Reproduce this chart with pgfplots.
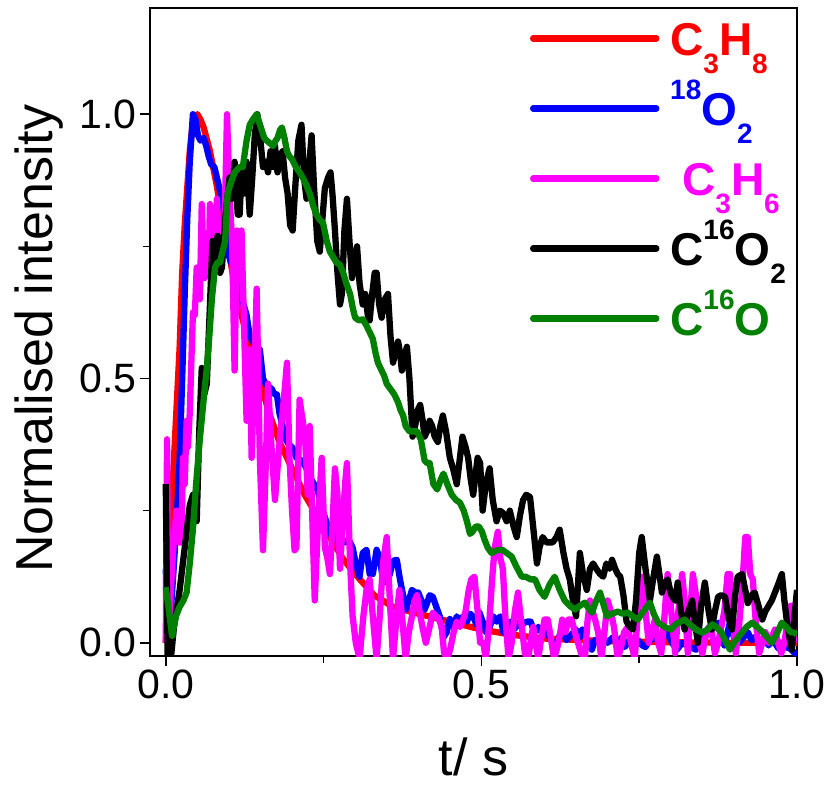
\documentclass[border=0pt]{standalone}
\usepackage{pgfplots}
\pgfplotsset{compat=1.18}
\usepackage{fontspec}
\setmainfont{Liberation Sans}
\definecolor{cgreen}{RGB}{0,128,0}
\definecolor{cmag}{RGB}{255,0,255}
\definecolor{cred}{RGB}{255,0,0}
\definecolor{cblue}{RGB}{0,0,255}
\newcommand{\lsub}[1]{\raisebox{-18bp}{\fontsize{28bp}{28bp}\selectfont #1}}
\newcommand{\lsup}[1]{\raisebox{26bp}{\fontsize{28bp}{28bp}\selectfont #1}}
\pgfplotsset{thickplot/.style={line width=6.3bp, line join=round}}
\begin{document}
\begin{tikzpicture}
\useasboundingbox (-150bp,-130bp) rectangle (680bp,656bp);
\begin{axis}[
  scale only axis, width=647bp, height=647.5bp,
  xmin=-0.025, xmax=1.0, ymin=-0.025, ymax=1.2,
  xtick={0,0.5,1}, ytick={0,0.5,1}, minor tick num=1,
  xtick pos=left, ytick pos=left, tick align=outside,
  major tick length=10bp, minor tick length=7bp,
  tick style={line width=1.6bp, black},
  axis line style={line width=2bp},
  /pgf/number format/.cd, fixed, fixed zerofill, precision=1, assume math mode=true,
  /pgfplots/.cd,
  tick label style={font=\fontsize{41bp}{41bp}\selectfont},
  xlabel={t/ s}, ylabel={Normalised intensity},
  label style={font=\fontsize{52bp}{52bp}\selectfont, inner sep=0pt},
  xlabel style={at={(axis description cs:0.5,-0.1838)}, anchor=base},
  ylabel style={at={(axis description cs:-0.133,0.49)}, anchor=south},
  legend style={draw=none, fill=none, inner sep=0pt, outer sep=0pt, row sep=0pt, column sep=0pt,
     at={(axis description cs:0.5873,1)}, anchor=north west,
     font=\bfseries\fontsize{46bp}{46bp}\selectfont,
     cells={anchor=base west},
     nodes={inner sep=0pt, outer sep=0pt, text height=47bp, text depth=23bp}},
  legend image code/.code={\path[draw=none,fill=none] (0bp,0bp) -- (137bp,0bp); \draw[#1, line width=6.5bp, line cap=round] (0bp,17bp) -- (123bp,17bp);},
]
\addplot[cred, thickplot] coordinates {
(0.000,0.00)(0.005,0.10)(0.011,0.30)(0.016,0.42)(0.022,0.56)(0.026,0.70)(0.030,0.79)(0.034,0.86)(0.038,0.93)(0.042,0.975)(0.046,0.995)(0.050,1.00)(0.055,0.99)(0.060,0.975)(0.070,0.93)(0.080,0.87)(0.090,0.80)(0.100,0.74)(0.110,0.67)(0.120,0.62)(0.135,0.55)(0.150,0.49)(0.165,0.43)(0.180,0.38)(0.200,0.33)(0.220,0.28)(0.240,0.24)(0.260,0.20)(0.280,0.16)(0.300,0.13)(0.330,0.09)(0.360,0.068)(0.400,0.055)(0.450,0.040)(0.500,0.025)(0.550,0.015)(0.600,0.008)(0.700,0.003)(0.800,0.001)(0.900,0.000)(1.000,0.000)
};
\addlegendentry{\textcolor{cred}{C\lsub{3}H\lsub{8}}}
\addplot[cblue, thickplot] coordinates {
(0.000,0.14)(0.003,0.00)(0.008,0.06)(0.013,0.15)(0.018,0.25)(0.022,0.35)(0.026,0.50)(0.030,0.66)(0.034,0.80)(0.038,0.91)(0.043,1.00)(0.047,0.99)(0.051,0.96)(0.055,0.95)(0.060,0.955)(0.064,0.94)(0.068,0.92)(0.072,0.905)(0.077,0.90)(0.081,0.88)(0.085,0.86)(0.089,0.84)(0.094,0.80)(0.098,0.74)(0.103,0.72)(0.107,0.71)(0.112,0.69)(0.117,0.67)(0.122,0.645)(0.128,0.62)(0.133,0.58)(0.138,0.57)(0.144,0.56)(0.149,0.555)(0.154,0.50)(0.158,0.49)(0.163,0.485)(0.168,0.48)(0.172,0.47)(0.176,0.47)(0.180,0.435)(0.185,0.41)(0.190,0.385)(0.195,0.375)(0.200,0.37)(0.207,0.35)(0.215,0.345)(0.223,0.33)(0.230,0.31)(0.235,0.30)(0.240,0.29)(0.245,0.27)(0.250,0.245)(0.255,0.227)(0.260,0.21)(0.265,0.195)(0.270,0.21)(0.275,0.20)(0.280,0.195)(0.285,0.19)(0.290,0.195)(0.296,0.18)(0.301,0.15)(0.307,0.125)(0.312,0.17)(0.318,0.176)(0.323,0.13)(0.328,0.13)(0.334,0.176)(0.339,0.16)(0.344,0.12)(0.350,0.114)(0.355,0.13)(0.360,0.155)(0.366,0.157)(0.371,0.12)(0.376,0.09)(0.380,0.063)(0.385,0.08)(0.390,0.10)(0.395,0.095)(0.400,0.095)(0.405,0.08)(0.410,0.063)(0.414,0.075)(0.418,0.09)(0.423,0.087)(0.428,0.07)(0.434,0.05)(0.440,0.01)(0.445,0.02)(0.450,0.045)(0.456,0.03)(0.461,0.05)(0.466,0.04)(0.471,0.05)(0.477,0.04)(0.482,0.055)(0.487,0.05)(0.492,0.035)(0.497,0.057)(0.502,0.04)(0.508,0.019)(0.513,0.03)(0.519,0.05)(0.524,0.04)(0.530,0.05)(0.535,0.019)(0.541,0.03)(0.546,0.04)(0.552,0.025)(0.557,0.038)(0.562,0.03)(0.568,0.038)(0.573,0.04)(0.578,0.04)(0.584,0.02)(0.590,0.03)(0.596,0.019)(0.602,0.025)(0.608,0.01)(0.616,-0.008)(0.622,0.01)(0.628,0.02)(0.635,0.005)(0.642,0.015)(0.650,0.025)(0.655,0.01)(0.660,0.025)(0.665,0.01)(0.670,0.00)(0.675,-0.013)(0.680,0.005)(0.685,0.005)(0.692,0.01)(0.700,0.0)(0.708,0.01)(0.716,0.0)(0.722,0.01)(0.727,-0.008)(0.735,0.005)(0.742,0.0)(0.748,0.005)(0.755,-0.005)(0.760,-0.008)(0.764,0.0)(0.772,0.01)(0.780,0.005)(0.788,0.01)(0.795,0.019)(0.802,0.0)(0.810,-0.013)(0.818,0.0)(0.826,-0.005)(0.834,-0.01)(0.840,-0.013)(0.848,0.01)(0.856,0.02)(0.864,0.025)(0.870,0.03)(0.875,0.038)(0.880,0.01)(0.885,-0.005)(0.890,0.02)(0.894,0.04)(0.900,0.01)(0.908,0.0)(0.915,0.01)(0.922,0.02)(0.928,0.005)(0.933,0.011)(0.940,0.0)(0.948,0.01)(0.955,-0.005)(0.960,0.005)(0.965,0.0)(0.970,-0.01)(0.975,-0.013)(0.980,-0.008)(0.988,-0.01)(0.997,-0.02)(1.000,-0.02)
};
\addlegendentry{\textcolor{cblue}{\lsup{18}O\lsub{2}}}
\addplot[cmag, thickplot] coordinates {
(0.000,0.00)(0.002,0.385)(0.004,0.00)(0.008,0.10)(0.012,0.18)(0.017,0.25)(0.021,0.19)(0.025,0.19)(0.027,0.35)(0.030,0.30)(0.033,0.42)(0.035,0.37)(0.038,0.435)(0.041,0.55)(0.043,0.625)(0.046,0.62)(0.049,0.71)(0.052,0.65)(0.054,0.65)(0.057,0.83)(0.060,0.72)(0.062,0.69)(0.065,0.74)(0.068,0.72)(0.070,0.83)(0.074,0.79)(0.078,0.74)(0.081,0.84)(0.084,0.75)(0.086,0.70)(0.090,0.76)(0.093,0.78)(0.097,1.00)(0.101,0.85)(0.105,0.76)(0.109,0.515)(0.113,0.78)(0.117,0.75)(0.120,0.78)(0.124,0.60)(0.128,0.42)(0.133,0.555)(0.136,0.35)(0.140,0.50)(0.144,0.67)(0.149,0.35)(0.154,0.175)(0.158,0.32)(0.162,0.49)(0.167,0.38)(0.173,0.27)(0.177,0.33)(0.181,0.39)(0.187,0.46)(0.192,0.53)(0.196,0.35)(0.200,0.25)(0.204,0.175)(0.207,0.18)(0.212,0.46)(0.217,0.42)(0.221,0.38)(0.225,0.28)(0.228,0.41)(0.233,0.20)(0.236,0.08)(0.241,0.22)(0.247,0.35)(0.252,0.18)(0.256,0.16)(0.260,0.13)(0.264,0.22)(0.268,0.33)(0.272,0.28)(0.276,0.14)(0.280,0.22)(0.284,0.30)(0.287,0.34)(0.292,0.15)(0.296,0.05)(0.301,0.0)(0.307,-0.03)(0.313,0.05)(0.318,0.10)(0.323,0.12)(0.328,0.05)(0.334,-0.03)(0.339,0.05)(0.344,0.15)(0.350,0.20)(0.355,0.08)(0.360,-0.03)(0.365,0.04)(0.370,0.10)(0.375,0.04)(0.380,-0.03)(0.385,0.02)(0.390,0.05)(0.394,0.08)(0.398,0.09)(0.402,0.06)(0.407,0.027)(0.412,0.00)(0.418,0.03)(0.423,0.057)(0.428,0.05)(0.432,0.047)(0.437,0.03)(0.441,-0.02)(0.446,-0.03)(0.451,-0.01)(0.456,0.02)(0.461,0.04)(0.466,0.03)(0.470,0.04)(0.475,0.06)(0.480,0.10)(0.484,0.12)(0.489,0.125)(0.494,0.06)(0.498,0.0)(0.503,0.00)(0.507,-0.03)(0.512,0.03)(0.517,0.12)(0.521,0.18)(0.526,0.21)(0.530,0.16)(0.534,0.14)(0.538,0.05)(0.543,-0.03)(0.548,0.00)(0.553,0.06)(0.558,0.095)(0.563,0.04)(0.569,-0.02)(0.574,-0.03)(0.579,0.01)(0.582,0.03)(0.586,0.00)(0.590,-0.03)(0.595,0.01)(0.600,0.044)(0.605,0.044)(0.610,0.01)(0.615,-0.03)(0.620,-0.01)(0.625,0.02)(0.628,0.044)(0.633,0.02)(0.638,0.044)(0.643,0.044)(0.648,0.02)(0.653,0.00)(0.658,-0.02)(0.664,-0.03)(0.668,0.04)(0.672,0.08)(0.676,0.06)(0.680,0.044)(0.685,0.02)(0.690,-0.03)(0.695,0.02)(0.700,0.08)(0.705,0.06)(0.710,0.03)(0.716,-0.03)(0.721,-0.01)(0.726,0.02)(0.732,0.03)(0.737,0.00)(0.743,-0.03)(0.748,0.06)(0.754,0.125)(0.760,0.06)(0.765,0.00)(0.770,0.02)(0.775,0.044)(0.780,0.00)(0.785,-0.02)(0.790,0.05)(0.795,0.13)(0.800,0.07)(0.807,-0.02)(0.812,0.06)(0.818,0.13)(0.822,0.08)(0.827,-0.02)(0.831,0.06)(0.835,0.13)(0.840,0.09)(0.845,0.00)(0.850,-0.02)(0.855,0.01)(0.860,0.03)(0.865,0.02)(0.870,-0.02)(0.875,0.00)(0.880,0.03)(0.885,0.06)(0.890,0.13)(0.894,0.13)(0.898,0.05)(0.903,-0.02)(0.908,0.03)(0.913,0.10)(0.918,0.20)(0.922,0.20)(0.926,0.13)(0.930,0.12)(0.934,0.05)(0.940,-0.02)(0.945,0.00)(0.950,0.02)(0.955,0.00)(0.960,0.01)(0.965,0.025)(0.970,0.00)(0.975,-0.02)(0.980,0.00)(0.985,0.04)(0.990,0.07)(0.995,0.07)(1.000,0.00)
};
\addlegendentry{\hspace{12bp}\textcolor{cmag}{C\lsub{3}H\lsub{6}}}
\addplot[black, thickplot] coordinates {
(0.000,0.30)(0.003,-0.03)(0.008,-0.03)(0.013,0.03)(0.017,0.06)(0.022,0.10)(0.027,0.15)(0.032,0.20)(0.038,0.26)(0.043,0.28)(0.049,0.23)(0.053,0.40)(0.057,0.52)(0.061,0.47)(0.065,0.49)(0.070,0.64)(0.074,0.76)(0.078,0.72)(0.082,0.77)(0.086,0.70)(0.089,0.71)(0.094,0.80)(0.101,0.88)(0.105,0.84)(0.109,0.91)(0.114,0.81)(0.117,0.81)(0.120,0.89)(0.124,0.85)(0.128,0.91)(0.133,0.81)(0.137,0.88)(0.141,0.96)(0.145,1.00)(0.150,0.95)(0.154,0.90)(0.158,0.91)(0.162,0.89)(0.166,0.93)(0.170,0.90)(0.173,0.94)(0.177,0.89)(0.181,0.92)(0.185,0.93)(0.189,0.88)(0.193,0.85)(0.197,0.79)(0.201,0.78)(0.205,0.86)(0.210,0.95)(0.215,0.98)(0.219,0.88)(0.223,0.84)(0.227,0.90)(0.231,0.96)(0.235,0.86)(0.240,0.76)(0.244,0.74)(0.248,0.80)(0.252,0.86)(0.257,0.88)(0.261,0.89)(0.264,0.85)(0.268,0.78)(0.272,0.70)(0.276,0.64)(0.279,0.66)(0.283,0.78)(0.287,0.84)(0.291,0.76)(0.295,0.69)(0.299,0.72)(0.303,0.75)(0.307,0.68)(0.312,0.64)(0.316,0.66)(0.320,0.62)(0.323,0.61)(0.327,0.66)(0.331,0.70)(0.334,0.70)(0.338,0.64)(0.342,0.615)(0.347,0.65)(0.352,0.66)(0.356,0.58)(0.360,0.53)(0.364,0.55)(0.368,0.57)(0.371,0.55)(0.374,0.515)(0.378,0.54)(0.382,0.56)(0.386,0.50)(0.391,0.39)(0.395,0.41)(0.399,0.44)(0.403,0.45)(0.407,0.42)(0.410,0.39)(0.414,0.40)(0.418,0.42)(0.422,0.41)(0.426,0.39)(0.431,0.38)(0.435,0.41)(0.439,0.43)(0.444,0.40)(0.450,0.35)(0.455,0.33)(0.461,0.30)(0.466,0.35)(0.470,0.39)(0.475,0.37)(0.479,0.35)(0.483,0.31)(0.487,0.28)(0.491,0.32)(0.494,0.35)(0.498,0.34)(0.502,0.25)(0.507,0.30)(0.513,0.33)(0.518,0.27)(0.524,0.23)(0.529,0.25)(0.534,0.246)(0.540,0.23)(0.545,0.25)(0.551,0.22)(0.556,0.20)(0.561,0.24)(0.566,0.27)(0.571,0.28)(0.577,0.276)(0.582,0.22)(0.588,0.15)(0.592,0.18)(0.597,0.20)(0.603,0.19)(0.608,0.19)(0.613,0.19)(0.619,0.20)(0.624,0.214)(0.630,0.17)(0.635,0.14)(0.640,0.12)(0.645,0.08)(0.650,0.05)(0.656,0.17)(0.661,0.13)(0.667,0.10)(0.672,0.14)(0.677,0.15)(0.682,0.14)(0.688,0.13)(0.693,0.125)(0.698,0.15)(0.703,0.14)(0.707,0.157)(0.712,0.14)(0.716,0.13)(0.720,0.125)(0.725,0.09)(0.730,0.04)(0.735,0.03)(0.740,0.025)(0.745,0.08)(0.750,0.17)(0.754,0.20)(0.760,0.14)(0.767,0.08)(0.772,0.12)(0.778,0.163)(0.782,0.13)(0.786,0.095)(0.790,0.11)(0.795,0.12)(0.801,0.09)(0.807,0.08)(0.811,0.114)(0.816,0.06)(0.822,0.025)(0.828,0.06)(0.834,0.08)(0.838,0.04)(0.843,0.00)(0.848,0.07)(0.854,0.114)(0.860,0.06)(0.865,0.025)(0.870,0.06)(0.875,0.087)(0.880,0.09)(0.886,0.087)(0.891,0.05)(0.897,0.025)(0.902,0.09)(0.906,0.125)(0.913,0.13)(0.918,0.10)(0.922,0.075)(0.928,0.09)(0.933,0.095)(0.939,0.07)(0.945,0.044)(0.950,0.06)(0.954,0.068)(0.960,0.08)(0.965,0.095)(0.970,0.11)(0.976,0.13)(0.980,0.08)(0.984,0.04)(0.988,0.01)(0.992,-0.013)(0.996,0.05)(1.000,0.10)
};
\addlegendentry{\textcolor{black}{C\lsup{16}O\lsub{2}}}
\addplot[cgreen, thickplot] coordinates {
(0.000,0.105)(0.005,0.06)(0.010,0.013)(0.016,0.05)(0.022,0.068)(0.028,0.08)(0.033,0.095)(0.038,0.15)(0.043,0.215)(0.048,0.30)(0.054,0.386)(0.060,0.46)(0.065,0.52)(0.069,0.58)(0.073,0.65)(0.078,0.71)(0.082,0.72)(0.086,0.72)(0.090,0.74)(0.094,0.76)(0.098,0.85)(0.103,0.87)(0.109,0.89)(0.113,0.895)(0.117,0.90)(0.122,0.90)(0.128,0.95)(0.133,0.98)(0.138,0.99)(0.144,1.00)(0.148,0.985)(0.152,0.97)(0.156,0.955)(0.160,0.95)(0.165,0.945)(0.170,0.94)(0.174,0.95)(0.177,0.955)(0.181,0.97)(0.184,0.975)(0.188,0.955)(0.192,0.93)(0.196,0.92)(0.200,0.915)(0.206,0.90)(0.212,0.89)(0.217,0.88)(0.223,0.865)(0.228,0.85)(0.234,0.825)(0.239,0.81)(0.244,0.80)(0.249,0.795)(0.255,0.76)(0.260,0.74)(0.265,0.73)(0.270,0.72)(0.276,0.715)(0.281,0.70)(0.286,0.68)(0.292,0.66)(0.296,0.635)(0.300,0.615)(0.306,0.61)(0.312,0.612)(0.318,0.60)(0.324,0.585)(0.328,0.575)(0.332,0.55)(0.336,0.53)(0.340,0.52)(0.346,0.505)(0.350,0.49)(0.356,0.48)(0.362,0.47)(0.368,0.455)(0.372,0.44)(0.376,0.43)(0.380,0.41)(0.386,0.40)(0.392,0.40)(0.398,0.40)(0.404,0.385)(0.410,0.345)(0.414,0.34)(0.418,0.34)(0.424,0.30)(0.430,0.29)(0.436,0.31)(0.440,0.32)(0.446,0.30)(0.453,0.28)(0.460,0.27)(0.466,0.265)(0.472,0.25)(0.477,0.23)(0.482,0.206)(0.486,0.21)(0.491,0.22)(0.496,0.22)(0.501,0.21)(0.505,0.195)(0.510,0.18)(0.516,0.17)(0.524,0.175)(0.533,0.176)(0.540,0.17)(0.548,0.163)(0.555,0.145)(0.564,0.125)(0.570,0.125)(0.578,0.12)(0.585,0.12)(0.592,0.10)(0.600,0.087)(0.608,0.11)(0.616,0.125)(0.624,0.10)(0.632,0.08)(0.640,0.07)(0.648,0.063)(0.656,0.07)(0.664,0.076)(0.670,0.065)(0.675,0.057)(0.682,0.08)(0.688,0.095)(0.694,0.07)(0.699,0.05)(0.707,0.055)(0.716,0.059)(0.724,0.055)(0.732,0.057)(0.740,0.05)(0.748,0.044)(0.754,0.055)(0.760,0.065)(0.767,0.076)(0.773,0.055)(0.780,0.038)(0.790,0.03)(0.800,0.025)(0.808,0.035)(0.815,0.04)(0.822,0.044)(0.830,0.035)(0.840,0.025)(0.850,0.019)(0.858,0.025)(0.866,0.035)(0.872,0.03)(0.880,0.02)(0.888,0.00)(0.894,-0.013)(0.900,0.0)(0.910,0.015)(0.920,0.03)(0.929,0.038)(0.937,0.03)(0.946,0.02)(0.953,0.01)(0.960,0.0)(0.967,0.015)(0.976,0.038)(0.983,0.03)(0.990,0.02)(0.997,0.019)(1.000,0.015)
};
\addlegendentry{\textcolor{cgreen}{C\lsup{16}O}}
\end{axis}
\end{tikzpicture}
\end{document}
